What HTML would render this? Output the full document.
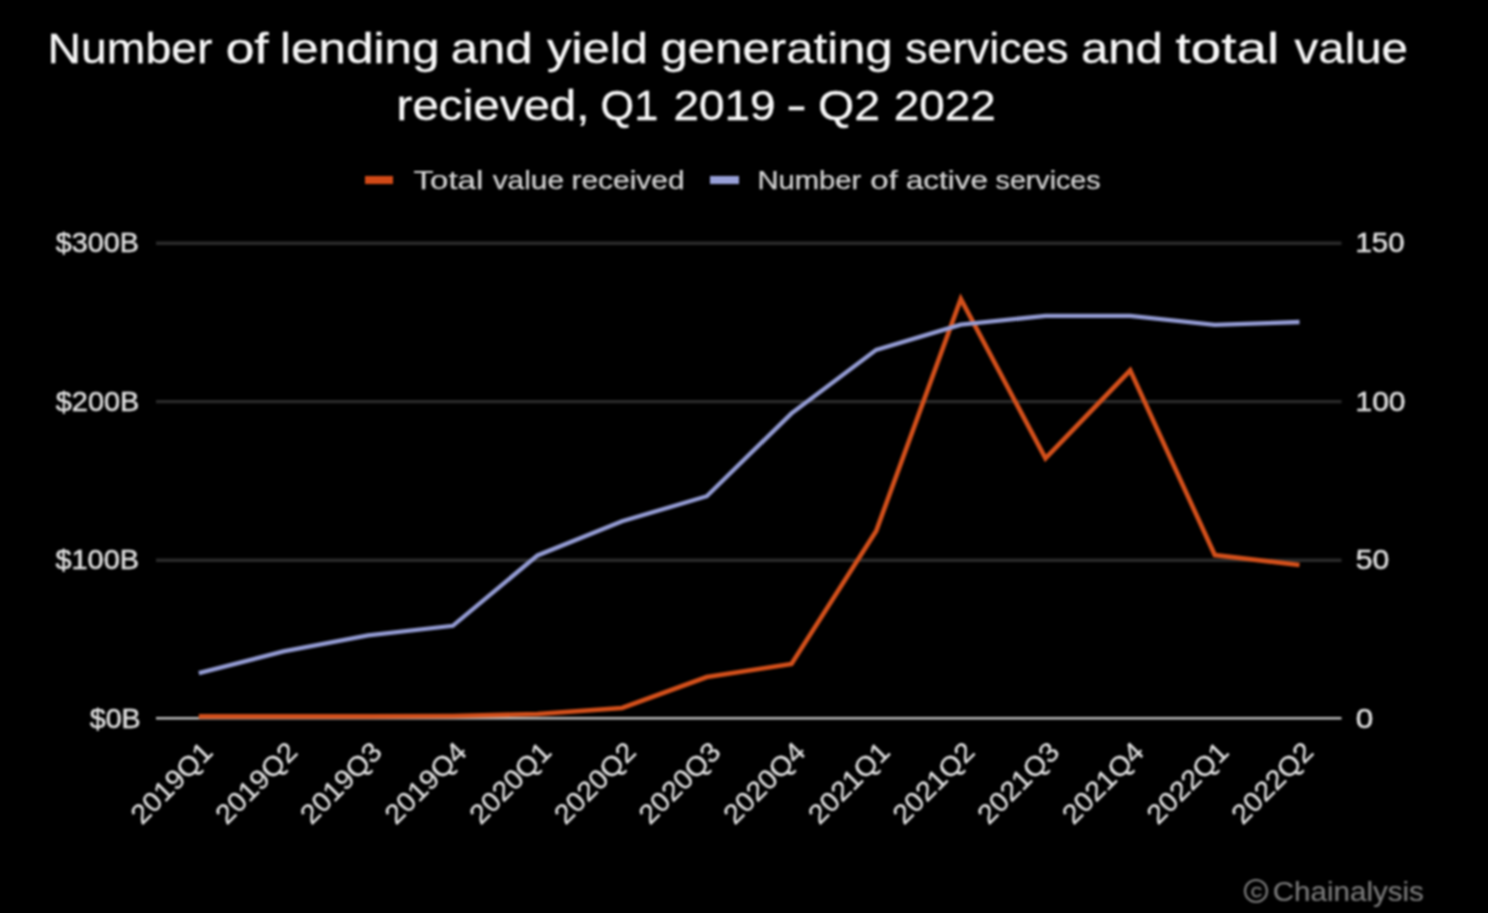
<!DOCTYPE html>
<html><head><meta charset="utf-8">
<style>
html,body{margin:0;padding:0;background:#000;width:1488px;height:913px;overflow:hidden}
svg{display:block;filter:blur(0.8px)}
text{font-family:"Liberation Sans",sans-serif}
</style></head>
<body>
<svg width="1488" height="913" viewBox="0 0 1488 913">
<rect width="1488" height="913" fill="#000"/>
<text x="47.6" y="63.0" font-size="42.5" fill="#f8f8f8" textLength="164.8" lengthAdjust="spacingAndGlyphs" stroke="#f8f8f8" stroke-width="0.3">Number</text>
<text x="225.7" y="63.0" font-size="42.5" fill="#f8f8f8" textLength="43.0" lengthAdjust="spacingAndGlyphs" stroke="#f8f8f8" stroke-width="0.3">of</text>
<text x="279.9" y="63.0" font-size="42.5" fill="#f8f8f8" textLength="159.6" lengthAdjust="spacingAndGlyphs" stroke="#f8f8f8" stroke-width="0.3">lending</text>
<text x="450.7" y="63.0" font-size="42.5" fill="#f8f8f8" textLength="81.7" lengthAdjust="spacingAndGlyphs" stroke="#f8f8f8" stroke-width="0.3">and</text>
<text x="546.9" y="63.0" font-size="42.5" fill="#f8f8f8" textLength="101.1" lengthAdjust="spacingAndGlyphs" stroke="#f8f8f8" stroke-width="0.3">yield</text>
<text x="660.5" y="63.0" font-size="42.5" fill="#f8f8f8" textLength="232.2" lengthAdjust="spacingAndGlyphs" stroke="#f8f8f8" stroke-width="0.3">generating</text>
<text x="905.2" y="63.0" font-size="42.5" fill="#f8f8f8" textLength="163.2" lengthAdjust="spacingAndGlyphs" stroke="#f8f8f8" stroke-width="0.3">services</text>
<text x="1080.9" y="63.0" font-size="42.5" fill="#f8f8f8" textLength="82.1" lengthAdjust="spacingAndGlyphs" stroke="#f8f8f8" stroke-width="0.3">and</text>
<text x="1175.5" y="63.0" font-size="42.5" fill="#f8f8f8" textLength="103.7" lengthAdjust="spacingAndGlyphs" stroke="#f8f8f8" stroke-width="0.3">total</text>
<text x="1294.5" y="63.0" font-size="42.5" fill="#f8f8f8" textLength="113.5" lengthAdjust="spacingAndGlyphs" stroke="#f8f8f8" stroke-width="0.3">value</text>
<text x="396.6" y="120.0" font-size="42.5" fill="#f8f8f8" textLength="192.9" lengthAdjust="spacingAndGlyphs" stroke="#f8f8f8" stroke-width="0.3">recieved,</text>
<text x="600.6" y="120.0" font-size="42.5" fill="#f8f8f8" textLength="57.6" lengthAdjust="spacingAndGlyphs" stroke="#f8f8f8" stroke-width="0.3">Q1</text>
<text x="673.5" y="120.0" font-size="42.5" fill="#f8f8f8" textLength="102.1" lengthAdjust="spacingAndGlyphs" stroke="#f8f8f8" stroke-width="0.3">2019</text>
<text x="786.3" y="120.0" font-size="42.5" fill="#f8f8f8" textLength="20.5" lengthAdjust="spacingAndGlyphs" stroke="#f8f8f8" stroke-width="0.3">-</text>
<text x="818.1" y="120.0" font-size="42.5" fill="#f8f8f8" textLength="62.1" lengthAdjust="spacingAndGlyphs" stroke="#f8f8f8" stroke-width="0.3">Q2</text>
<text x="893.7" y="120.0" font-size="42.5" fill="#f8f8f8" textLength="102.1" lengthAdjust="spacingAndGlyphs" stroke="#f8f8f8" stroke-width="0.3">2022</text>
<text x="413.6" y="189.0" font-size="26" fill="#d4d4d4" textLength="69.7" lengthAdjust="spacingAndGlyphs" stroke="#d4d4d4" stroke-width="0.25">Total</text>
<text x="492.7" y="189.0" font-size="26" fill="#d4d4d4" textLength="71.3" lengthAdjust="spacingAndGlyphs" stroke="#d4d4d4" stroke-width="0.25">value</text>
<text x="571.5" y="189.0" font-size="26" fill="#d4d4d4" textLength="113.1" lengthAdjust="spacingAndGlyphs" stroke="#d4d4d4" stroke-width="0.25">received</text>
<text x="757.5" y="189.0" font-size="26" fill="#d4d4d4" textLength="103.8" lengthAdjust="spacingAndGlyphs" stroke="#d4d4d4" stroke-width="0.25">Number</text>
<text x="870.3" y="189.0" font-size="26" fill="#d4d4d4" textLength="27.5" lengthAdjust="spacingAndGlyphs" stroke="#d4d4d4" stroke-width="0.25">of</text>
<text x="905.9" y="189.0" font-size="26" fill="#d4d4d4" textLength="82.0" lengthAdjust="spacingAndGlyphs" stroke="#d4d4d4" stroke-width="0.25">active</text>
<text x="995.6" y="189.0" font-size="26" fill="#d4d4d4" textLength="104.9" lengthAdjust="spacingAndGlyphs" stroke="#d4d4d4" stroke-width="0.25">services</text>
<text x="55.8" y="252.0" font-size="27.5" fill="#e0e0e0" textLength="83.0" lengthAdjust="spacingAndGlyphs" stroke="#e0e0e0" stroke-width="0.5">$300B</text>
<text x="55.8" y="410.5" font-size="27.5" fill="#e0e0e0" textLength="83.5" lengthAdjust="spacingAndGlyphs" stroke="#e0e0e0" stroke-width="0.5">$200B</text>
<text x="55.5" y="569.0" font-size="27.5" fill="#e0e0e0" textLength="83.5" lengthAdjust="spacingAndGlyphs" stroke="#e0e0e0" stroke-width="0.5">$100B</text>
<text x="89.7" y="727.5" font-size="27.5" fill="#e0e0e0" textLength="51.0" lengthAdjust="spacingAndGlyphs" stroke="#e0e0e0" stroke-width="0.5">$0B</text>
<text x="1355.5" y="252.0" font-size="27.5" fill="#e0e0e0" textLength="49.0" lengthAdjust="spacingAndGlyphs" stroke="#e0e0e0" stroke-width="0.5">150</text>
<text x="1355.5" y="410.5" font-size="27.5" fill="#e0e0e0" textLength="50.0" lengthAdjust="spacingAndGlyphs" stroke="#e0e0e0" stroke-width="0.5">100</text>
<text x="1355.8" y="569.0" font-size="27.5" fill="#e0e0e0" textLength="33.5" lengthAdjust="spacingAndGlyphs" stroke="#e0e0e0" stroke-width="0.5">50</text>
<text x="1355.8" y="727.5" font-size="27.5" fill="#e0e0e0" textLength="17.5" lengthAdjust="spacingAndGlyphs" stroke="#e0e0e0" stroke-width="0.5">0</text>
<text x="1272.8" y="901.0" font-size="27" fill="#7a7a7a" textLength="151.0" lengthAdjust="spacingAndGlyphs" stroke="#7a7a7a" stroke-width="0.2">Chainalysis</text>
<rect x="365" y="176" width="28" height="8" fill="#d24a17"/>
<rect x="710" y="176" width="29" height="8" fill="#98a0d8"/>
<line x1="156" y1="243.2" x2="1341.5" y2="243.2" stroke="#2a2a2a" stroke-width="3.4"/>
<line x1="156" y1="401.6" x2="1341.5" y2="401.6" stroke="#2a2a2a" stroke-width="3.4"/>
<line x1="156" y1="560.2" x2="1341.5" y2="560.2" stroke="#2a2a2a" stroke-width="3.4"/>
<line x1="156" y1="718.3" x2="1341.5" y2="718.3" stroke="#bcbcbc" stroke-width="2.6"/>
<polyline fill="none" stroke="#d4501b" stroke-width="4.6" stroke-linejoin="miter" points="198.8,716.4 283.5,716.4 368.1,716.4 452.8,716.0 537.5,714.0 622.1,708.0 706.8,677.0 791.5,664.0 876.2,531.0 960.8,299.0 1045.5,458.4 1130.2,370.4 1214.8,555.0 1299.5,565.0"/>
<polyline fill="none" stroke="#949cd4" stroke-width="4.3" stroke-linejoin="miter" points="198.8,673.2 283.5,651.4 368.1,635.3 452.8,625.8 537.5,555.4 622.1,521.3 706.8,496.2 791.5,413.4 876.2,349.9 960.8,324.7 1045.5,315.8 1130.2,315.8 1214.8,324.9 1299.5,322.0"/>
<text transform="translate(207.5,746.8) rotate(-45)" x="0" y="9.5" font-size="27.5" fill="#e0e0e0" text-anchor="end" textLength="102" lengthAdjust="spacingAndGlyphs" stroke="#e0e0e0" stroke-width="0.3">2019Q1</text>
<text transform="translate(292.2,746.8) rotate(-45)" x="0" y="9.5" font-size="27.5" fill="#e0e0e0" text-anchor="end" textLength="102" lengthAdjust="spacingAndGlyphs" stroke="#e0e0e0" stroke-width="0.3">2019Q2</text>
<text transform="translate(376.8,746.8) rotate(-45)" x="0" y="9.5" font-size="27.5" fill="#e0e0e0" text-anchor="end" textLength="102" lengthAdjust="spacingAndGlyphs" stroke="#e0e0e0" stroke-width="0.3">2019Q3</text>
<text transform="translate(461.5,746.8) rotate(-45)" x="0" y="9.5" font-size="27.5" fill="#e0e0e0" text-anchor="end" textLength="102" lengthAdjust="spacingAndGlyphs" stroke="#e0e0e0" stroke-width="0.3">2019Q4</text>
<text transform="translate(546.2,746.8) rotate(-45)" x="0" y="9.5" font-size="27.5" fill="#e0e0e0" text-anchor="end" textLength="102" lengthAdjust="spacingAndGlyphs" stroke="#e0e0e0" stroke-width="0.3">2020Q1</text>
<text transform="translate(630.9,746.8) rotate(-45)" x="0" y="9.5" font-size="27.5" fill="#e0e0e0" text-anchor="end" textLength="102" lengthAdjust="spacingAndGlyphs" stroke="#e0e0e0" stroke-width="0.3">2020Q2</text>
<text transform="translate(715.5,746.8) rotate(-45)" x="0" y="9.5" font-size="27.5" fill="#e0e0e0" text-anchor="end" textLength="102" lengthAdjust="spacingAndGlyphs" stroke="#e0e0e0" stroke-width="0.3">2020Q3</text>
<text transform="translate(800.2,746.8) rotate(-45)" x="0" y="9.5" font-size="27.5" fill="#e0e0e0" text-anchor="end" textLength="102" lengthAdjust="spacingAndGlyphs" stroke="#e0e0e0" stroke-width="0.3">2020Q4</text>
<text transform="translate(884.9,746.8) rotate(-45)" x="0" y="9.5" font-size="27.5" fill="#e0e0e0" text-anchor="end" textLength="102" lengthAdjust="spacingAndGlyphs" stroke="#e0e0e0" stroke-width="0.3">2021Q1</text>
<text transform="translate(969.5,746.8) rotate(-45)" x="0" y="9.5" font-size="27.5" fill="#e0e0e0" text-anchor="end" textLength="102" lengthAdjust="spacingAndGlyphs" stroke="#e0e0e0" stroke-width="0.3">2021Q2</text>
<text transform="translate(1054.2,746.8) rotate(-45)" x="0" y="9.5" font-size="27.5" fill="#e0e0e0" text-anchor="end" textLength="102" lengthAdjust="spacingAndGlyphs" stroke="#e0e0e0" stroke-width="0.3">2021Q3</text>
<text transform="translate(1138.9,746.8) rotate(-45)" x="0" y="9.5" font-size="27.5" fill="#e0e0e0" text-anchor="end" textLength="102" lengthAdjust="spacingAndGlyphs" stroke="#e0e0e0" stroke-width="0.3">2021Q4</text>
<text transform="translate(1223.5,746.8) rotate(-45)" x="0" y="9.5" font-size="27.5" fill="#e0e0e0" text-anchor="end" textLength="102" lengthAdjust="spacingAndGlyphs" stroke="#e0e0e0" stroke-width="0.3">2022Q1</text>
<text transform="translate(1308.2,746.8) rotate(-45)" x="0" y="9.5" font-size="27.5" fill="#e0e0e0" text-anchor="end" textLength="102" lengthAdjust="spacingAndGlyphs" stroke="#e0e0e0" stroke-width="0.3">2022Q2</text>
<circle cx="1256" cy="891" r="11" fill="none" stroke="#7a7a7a" stroke-width="2.2"/>
<text x="1256.3" y="896.6" font-size="15" text-anchor="middle" fill="#7a7a7a" stroke="#7a7a7a" stroke-width="0.6">C</text>
</svg>
</body></html>
